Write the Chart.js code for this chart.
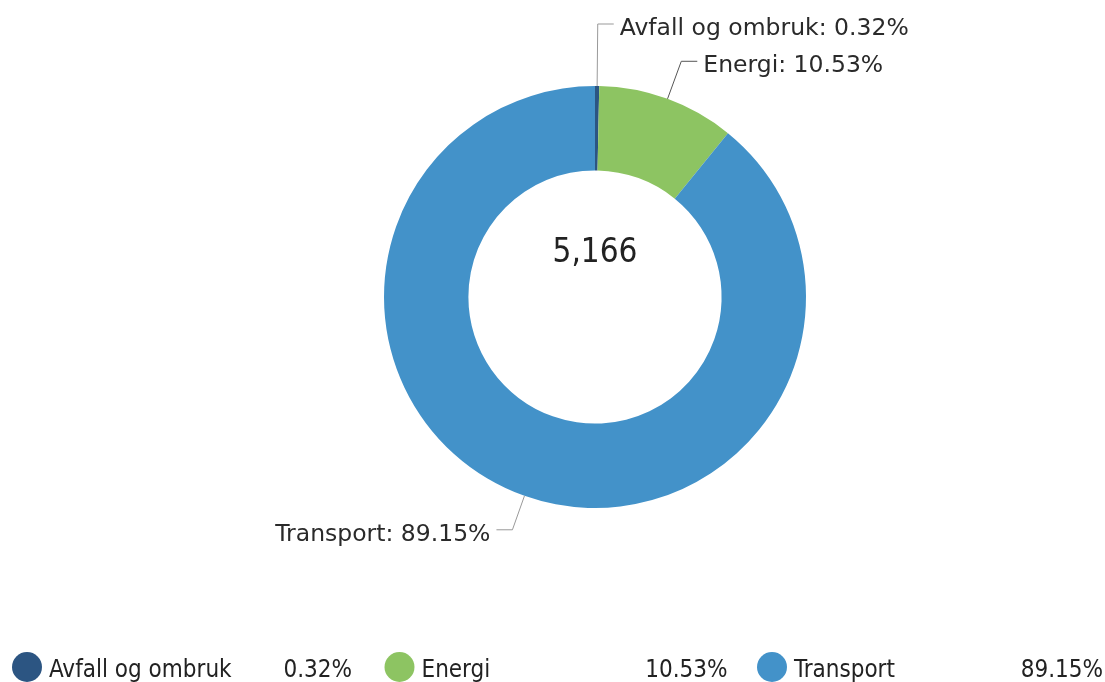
<!DOCTYPE html>
<html>
<head>
<meta charset="utf-8">
<script src="https://cdn.jsdelivr.net/npm/chart.js@4.4.1/dist/chart.umd.min.js"></script>
<style>
  html, body { margin: 0; padding: 0; background: #fff; }
  #wrap { position: relative; width: 1105px; height: 682px; }
</style>
</head>
<body>
<div id="wrap"><canvas id="myChart"></canvas></div>
<script>
const categories = ['Avfall og ombruk', 'Energi', 'Transport'];
const shares = [0.32, 10.53, 89.15];
const sliceColors = ['#2c5582', '#8dc462', '#4392c9'];
const centerTotal = '5,166';

const pctText = v => v.toFixed(2) + '%';

// labels, leader lines, centre number and the bottom legend
const donutExtras = {
  id: 'donutExtras',
  afterDraw(chart) {
    const ctx = chart.ctx;
    const arcs = chart.getDatasetMeta(0).data;
    const cx = arcs[0].x, cy = arcs[0].y;
    const R = arcs[0].outerRadius;
    ctx.save();

    ctx.font = '33px "DejaVu Sans Condensed", "DejaVu Sans", sans-serif';
    ctx.fillStyle = '#222';
    ctx.textAlign = 'center';
    ctx.textBaseline = 'alphabetic';
    ctx.fillText(centerTotal, cx, cy - 35);

    const reach = [62, 40, 36];
    ctx.font = '23.5px "DejaVu Sans", sans-serif';
    ctx.textBaseline = 'middle';
    ctx.lineWidth = 1;
    arcs.forEach((arc, i) => {
      const mid = (arc.startAngle + arc.endAngle) / 2;
      const ax = cx + Math.cos(mid) * R, ay = cy + Math.sin(mid) * R;
      const ex = cx + Math.cos(mid) * (R + reach[i]);
      const ey = cy + Math.sin(mid) * (R + reach[i]);
      const right = Math.cos(mid) >= 0;
      const hx = ex + (right ? 16 : -16);
      ctx.strokeStyle = i === 1 ? '#555' : '#999';
      ctx.beginPath();
      ctx.moveTo(ax, ay);
      ctx.lineTo(ex, ey);
      ctx.lineTo(hx, ey);
      ctx.stroke();
      ctx.fillStyle = '#2a2a2a';
      ctx.textAlign = right ? 'left' : 'right';
      ctx.fillText(categories[i] + ': ' + pctText(shares[i]), hx + (right ? 6 : -6), ey + 5);
    });

    const colW = 372.5;
    ctx.font = '24px "DejaVu Sans Condensed", "DejaVu Sans", sans-serif';
    ctx.textBaseline = 'alphabetic';
    categories.forEach((name, i) => {
      const x0 = 27 + i * colW;
      ctx.fillStyle = sliceColors[i];
      ctx.beginPath();
      ctx.arc(x0, 667, 15, 0, Math.PI * 2);
      ctx.fill();
      ctx.fillStyle = '#222';
      ctx.textAlign = 'left';
      ctx.fillText(name, x0 + 22, 677);
      ctx.textAlign = 'right';
      ctx.fillText(pctText(shares[i]), 352 + i * 375.5, 677);
    });
    ctx.restore();
  }
};

new Chart(document.getElementById('myChart').getContext('2d'), {
  type: 'doughnut',
  data: {
    labels: categories,
    datasets: [{
      data: shares,
      backgroundColor: sliceColors,
      borderWidth: 0,
      hoverOffset: 0
    }]
  },
  options: {
    responsive: true,
    maintainAspectRatio: false,
    animation: false,
    cutout: '60%',
    layout: { padding: { left: 384, right: 299, top: 86, bottom: 174 } },
    plugins: {
      legend: { display: false },
      tooltip: { enabled: false }
    }
  },
  plugins: [donutExtras]
});
</script>
</body>
</html>
